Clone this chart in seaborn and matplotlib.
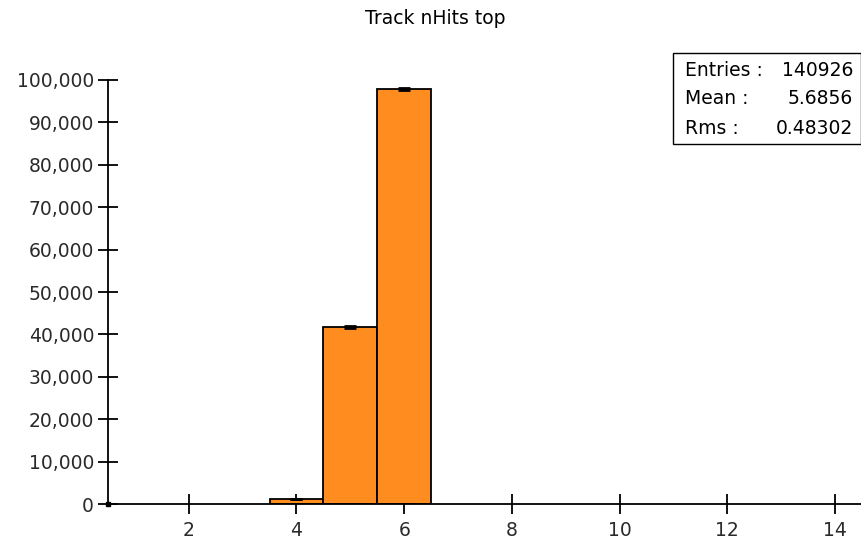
import numpy as np
import pandas as pd
import matplotlib
matplotlib.use("Agg")
import matplotlib.pyplot as plt
from matplotlib.ticker import FuncFormatter
import seaborn as sns

# Histogram contents: number of hits per track (top half)
nhits = [4, 5, 6]
counts = [1252, 41804, 97870]
x_ticks = [2, 4, 6, 8, 10, 12, 14]
y_ticks = [0, 10000, 20000, 30000, 40000, 50000, 60000, 70000, 80000, 90000, 100000]
stat_names = ["Entries :", "Mean :", "Rms :"]
stat_values = ["140926", "5.6856", "0.48302"]

sns.set_style("white")
plt.rcParams["font.family"] = ["DejaVu Sans"]

df = pd.DataFrame({"nHits": nhits, "count": counts})

fig = plt.figure(figsize=(8.62, 5.46), dpi=100)
ax = fig.add_axes([108 / 862, 42 / 546, 1 - 108 / 862, 424 / 546])

sns.histplot(data=df, x="nHits", weights="count", discrete=True,
             color="#FF8C1E", edgecolor="black", linewidth=1.3, alpha=1.0,
             ax=ax, zorder=2)

# statistical error bars (sqrt N)
ax.errorbar(df["nHits"], df["count"], yerr=np.sqrt(df["count"]), fmt="none",
            ecolor="black", elinewidth=1.5, capsize=4, capthick=2, zorder=3)

ax.set_xlim(0.5, 14.5)
ax.set_ylim(0, 100000)
ax.set_xticks(x_ticks)
ax.set_yticks(y_ticks)
ax.yaxis.set_major_formatter(FuncFormatter(lambda v, p: f"{int(v):,}"))
ax.set_xlabel("")
ax.set_ylabel("")

for side in ["top", "right"]:
    ax.spines[side].set_visible(False)
for side in ["left", "bottom"]:
    ax.spines[side].set_color("black")
    ax.spines[side].set_linewidth(1.3)
    ax.spines[side].set_zorder(4)

ax.tick_params(axis="both", bottom=True, left=True, direction="inout",
               length=14, width=1.3, color="black", labelsize=13.5,
               labelcolor="#2a2a2a")
ax.tick_params(axis="y", pad=3)
ax.tick_params(axis="x", pad=5)
for t in ax.xaxis.get_major_ticks() + ax.yaxis.get_major_ticks():
    t.tick1line.set_zorder(5)

# origin marker
ax.plot([0.5], [0], marker="s", color="black", markersize=3.5,
        clip_on=False, zorder=6)

fig.text(0.505, 1 - 19 / 546, "Track nHits top", ha="center", va="center",
         fontsize=13.5, color="black")

# statistics box
box = plt.Rectangle((673 / 862, 1 - 144 / 546), (861 - 673) / 862, 91 / 546,
                    transform=fig.transFigure, fill=False, edgecolor="black",
                    linewidth=1.0)
fig.add_artist(box)
for i, (n, v) in enumerate(zip(stat_names, stat_values)):
    y = 1 - (70 + i * 29) / 546
    fig.text(685 / 862, y, n, ha="left", va="center", fontsize=13.5, color="black")
    fig.text(853 / 862, y, v, ha="right", va="center", fontsize=13.5, color="black")

fig.savefig("out.png", dpi=100)
